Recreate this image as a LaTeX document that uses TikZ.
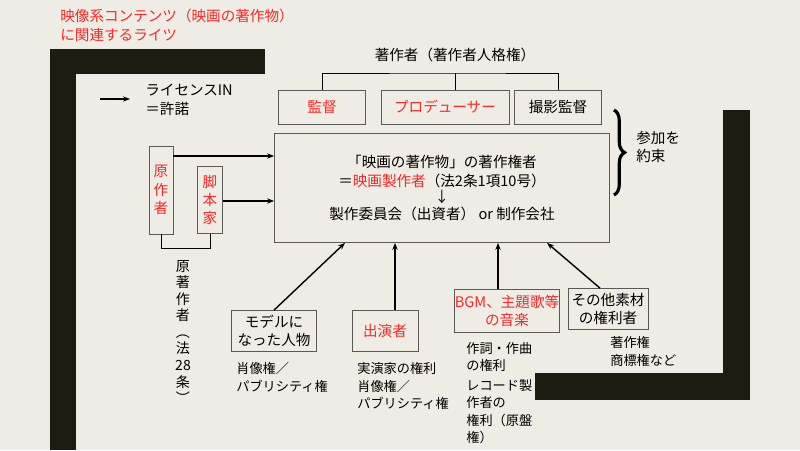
\documentclass[tikz,border=0pt]{standalone}
\usepackage{fontspec}
\setmainfont{Noto Sans CJK JP}
\usetikzlibrary{arrows.meta,decorations.pathreplacing,calc}
\definecolor{bgcol}{HTML}{EEECE4}
\definecolor{barcol}{HTML}{1C1C12}
\definecolor{redtxt}{HTML}{F52A2A}
\newcommand\px{*0.02cm}
\tikzset{box/.style={draw=black!65,thin,inner sep=0pt},
  lbl/.style={font=\fontsize{8.3}{10.5}\selectfont,inner sep=0pt},
  note/.style={lbl,align=left,anchor=north west,font=\fontsize{7.5}{10}\selectfont},
  red/.style={text=redtxt},
  arr/.style={thick,-{Stealth[length=4pt]}}}

\begin{document}
\begin{tikzpicture}[x=0.02cm,y=-0.02cm]
    % \draw[help lines] (0,0) grid (800,450); %grid
    \fill[bgcol] (0,0) rectangle (800,450);
    \useasboundingbox (0,0) rectangle (800,450);

    \fill[barcol] (50,49) rectangle (265,74);
    \fill[barcol] (50,49) rectangle (76,450);
    \fill[barcol] (723,110) rectangle (750,400);
    \fill[barcol] (535,373) rectangle (750,400);

    \node[lbl,red,align=left,anchor=north west] (title) at (60,9) {映像系コンテンツ（映画の著作物）\\に関連するライツ};

    \coordinate (legA) at (100,99);
    \coordinate (legB) at (130,99);
    \draw[arr] (legA) -- (legB);
    \node[lbl,align=left,anchor=west] (legend) at (145,100) {ライセンスIN\\＝許諾};

    \node[lbl] (auth) at (455,55) {著作者（著作者人格権）};
    \node[box,minimum width=87\px,minimum height=34\px,red,lbl] (dir) at (322,107) {監督};
    \node[box,minimum width=128\px,minimum height=34\px,red,lbl] (prod) at (445,107) {プロデューサー};
    \node[box,minimum width=87\px,minimum height=34\px,lbl] (cam) at (558,107) {撮影監督};
    \draw[thin] (dir.north) |- (455,73) -| (cam.north);
    \draw[thin] (prod.north -| 455,0) -- (455,73);

    \node[box,minimum width=335\px,minimum height=109\px] (main) at (442,188) {};
    \node[lbl,align=center] (maintxt) at (442,188) {「映画の著作物」の著作権者\\
      ＝\textcolor{redtxt}{映画製作者}（法2条1項10号）\\[-1pt] ↓\\[-1pt] 製作委員会（出資者） or 制作会社};

    \draw[line width=1.8pt,decorate,decoration={brace,amplitude=6pt}] (614,110) -- (614,195);
    \node[lbl,align=left,anchor=west] (promise) at (636,147) {参加を\\約束};

    \node[box,minimum width=24\px,minimum height=88\px,red,lbl,align=center] (orig) at (161,190) {原\\作\\者};
    \node[box,minimum width=25\px,minimum height=67\px,red,lbl,align=center] (scr) at (210,200) {脚\\本\\家};
    \draw[arr] (orig.east |- 0,156) -- (main.west |- 0,156);
    \draw[arr] (scr.east |- 0,201) -- (main.west |- 0,201);
    \draw[thin] (orig.south) -- ++(0,14) -| (scr.south);
    \node[lbl,align=center,anchor=north,font=\fontsize{8}{9.4}\selectfont] (origlaw) at (183,260) {原\\著\\作\\者\\︵\\法\\28\\条\\︶};

    \node[box,minimum width=85\px,minimum height=41\px,lbl,align=center] (model) at (274,331) {モデルに\\なった人物};
    \node[box,minimum width=66\px,minimum height=41\px,red,lbl] (cast) at (385,331) {出演者};
    \node[box,minimum width=99\px,minimum height=43\px,red,lbl,align=center] (music) at (507,311) {BGM、主題歌等\\の音楽};
    \node[box,minimum width=80\px,minimum height=41\px,lbl,align=center] (other) at (608,309) {その他素材\\の権利者};
    \draw[arr] (model.north) -- (main.south -| 345,0);
    \draw[arr] (cast.north -| 395,0) -- (main.south -| 395,0);
    \draw[arr] (music.north -| 498,0) -- (main.south -| 498,0);
    \draw[arr] (other.north -| 600,0) -- (main.south -| 547,0);

    \node[note] (modelnote) at (236,362) {肖像権／\\パブリシティ権};
    \node[note] (castnote) at (357,362) {実演家の権利\\肖像権／\\パブリシティ権};
    \node[note] (musicnote) at (466,342) {作詞・作曲\\の権利\\[1pt]レコード製\\作者の\\権利（原盤\\権）};
    \node[note] (othernote) at (610,336) {著作権\\商標権など};
\end{tikzpicture}
\end{document}
